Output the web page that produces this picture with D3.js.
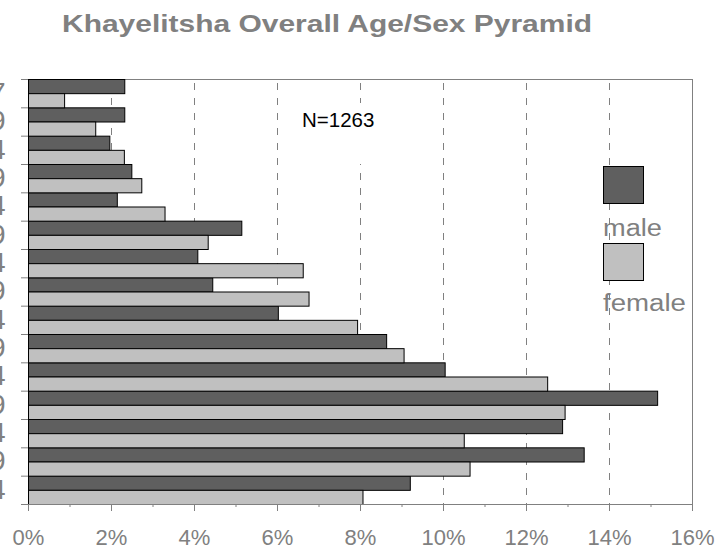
<!DOCTYPE html>
<html>
<head>
<meta charset="utf-8">
<script src="https://cdn.jsdelivr.net/npm/d3@7"></script>
<style>
  html, body { margin: 0; padding: 0; background: #fff; }
  svg { display: block; font-family: "Liberation Sans", Arial, sans-serif; }
</style>
</head>
<body>
<svg id="chart" width="717" height="550"></svg>
<script>
// Age groups, youngest first
const ageGroups = ["0-4", "5-9", "10-14", "15-19", "20-24", "25-29", "30-34", "35-39",
                   "40-44", "45-49", "50-54", "55-59", "60-64", "65-69", "70-77"];
// Share of the sample (%) in each age group
const maleValues   = [9.20, 13.39, 12.87, 15.16, 10.04, 8.63, 6.02, 4.44,
                      4.08, 5.14, 2.14, 2.49, 1.96, 2.32, 2.32];
const femaleValues = [8.06, 10.64, 10.50, 12.93, 12.51, 9.05, 7.93, 6.76,
                      6.62, 4.33, 3.29, 2.73, 2.31, 1.62, 0.87];
const seriesNames = ["male", "female"];
const xTickValues = [0, 2, 4, 6, 8, 10, 12, 14, 16];
const chartTitle = "Khayelitsha Overall Age/Sex Pyramid";
const sampleNote = "N=1263";

const svg = d3.select("#chart");
const plot = { left: 28, right: 692, top: 79, bottom: 504 };
const grey = "#808080";
const fills = { male: "#5f5f5f", female: "#c0c0c0" };

const x = d3.scaleLinear().domain([0, 16]).range([plot.left, plot.right]);
// oldest group at the top
const y = d3.scaleBand().domain(ageGroups.slice().reverse()).range([plot.top, plot.bottom]).padding(0);
const ySub = d3.scaleBand().domain(seriesNames).range([0, y.bandwidth()]).padding(0);
const yIdx = d3.scaleLinear().domain([0, ageGroups.length]).range([plot.top, plot.bottom]);

// title
svg.append("text")
  .attr("x", 62).attr("y", 32)
  .attr("textLength", 530).attr("lengthAdjust", "spacingAndGlyphs")
  .attr("font-size", 24).attr("font-weight", "bold").attr("fill", grey)
  .text(chartTitle);

// dashed gridlines
svg.append("g").selectAll("line")
  .data(xTickValues.filter(v => v > 0 && v < 16))
  .join("line")
  .attr("x1", d => Math.round(x(d)) + 0.5).attr("x2", d => Math.round(x(d)) + 0.5)
  .attr("y1", plot.top).attr("y2", plot.bottom)
  .attr("stroke", grey).attr("stroke-width", 1)
  .attr("stroke-dasharray", "7 8").attr("stroke-dashoffset", 11);

// sample size note on a white box
svg.append("rect").attr("x", 290).attr("y", 103).attr("width", 105).attr("height", 61).attr("fill", "#fff");
svg.append("text")
  .attr("x", 302).attr("y", 127)
  .attr("font-size", 20.5).attr("fill", "#000")
  .text(sampleNote);

// frame: top and right edges
svg.append("line").attr("x1", plot.left).attr("x2", plot.right + 0.5)
  .attr("y1", plot.top + 0.5).attr("y2", plot.top + 0.5)
  .attr("stroke", grey);
svg.append("line").attr("x1", plot.right + 0.5).attr("x2", plot.right + 0.5)
  .attr("y1", plot.top).attr("y2", plot.bottom)
  .attr("stroke", grey);

// bars
const rows = ageGroups.map((g, i) => ({ group: g, male: maleValues[i], female: femaleValues[i] }));
const groups = svg.append("g").selectAll("g")
  .data(rows).join("g")
  .attr("transform", d => `translate(0,${y(d.group)})`);
groups.selectAll("rect")
  .data(d => seriesNames.map(s => ({ key: s, value: d[s] })))
  .join("rect")
  .attr("x", x(0) + 0.5)
  .attr("y", d => ySub(d.key) + 0.5)
  .attr("width", d => x(d.value) - x(0))
  .attr("height", ySub.bandwidth())
  .attr("fill", d => fills[d.key])
  .attr("stroke", "#000").attr("stroke-width", 1);

// bottom axis: minor ticks every 1%, major labelled ticks every 2%
const xMinor = d3.axisBottom(x).tickValues(d3.range(1, 16, 2)).tickSize(3).tickFormat("");
const xMajor = d3.axisBottom(x).tickValues(xTickValues).tickSize(7)
  .tickFormat(d => d + "%");
const gMinor = svg.append("g").attr("transform", `translate(0,${plot.bottom})`).call(xMinor);
const gMajor = svg.append("g").attr("transform", `translate(0,${plot.bottom})`).call(xMajor);
[gMinor, gMajor].forEach(g => {
  g.select(".domain").attr("stroke", grey);
  g.selectAll(".tick line").attr("stroke", grey);
});
gMajor.selectAll(".tick text")
  .attr("y", 41).attr("dy", 0)
  .attr("font-size", 22).attr("fill", grey)
  .attr("font-family", "Liberation Sans, Arial, sans-serif");

// left axis: ticks on group boundaries, labels centred on each group
const yTicks = d3.axisLeft(yIdx).tickValues(d3.range(0, ageGroups.length + 1)).tickSize(7).tickFormat("");
const gTicks = svg.append("g").attr("transform", `translate(${plot.left},0)`).call(yTicks);
gTicks.select(".domain").attr("stroke", grey);
gTicks.selectAll(".tick line").attr("stroke", grey);

const yLabels = d3.axisLeft(y).tickSize(0).tickPadding(0);
const gLabels = svg.append("g").attr("transform", `translate(5.5,0)`).call(yLabels);
gLabels.select(".domain").remove();
gLabels.selectAll(".tick text")
  .attr("font-size", 28).attr("fill", grey)
  .attr("font-family", "Liberation Sans, Arial, sans-serif");

// redraw the left edge over the bar outlines
svg.append("line").attr("x1", plot.left + 0.5).attr("x2", plot.left + 0.5)
  .attr("y1", plot.top).attr("y2", plot.bottom)
  .attr("stroke", "#000");

// legend
const legend = svg.append("g");
const legendRows = [
  { key: "male", boxY: 166, textY: 236, len: 59 },
  { key: "female", boxY: 243, textY: 311, len: 83 }
];
legendRows.forEach(r => {
  legend.append("rect")
    .attr("x", 603.5).attr("y", r.boxY + 0.5).attr("width", 40).attr("height", 37)
    .attr("fill", fills[r.key]).attr("stroke", "#000").attr("stroke-width", 1);
  legend.append("text")
    .attr("x", 603).attr("y", r.textY)
    .attr("font-size", 23).attr("fill", grey)
    .attr("textLength", r.len).attr("lengthAdjust", "spacingAndGlyphs")
    .text(r.key);
});
</script>
</body>
</html>
